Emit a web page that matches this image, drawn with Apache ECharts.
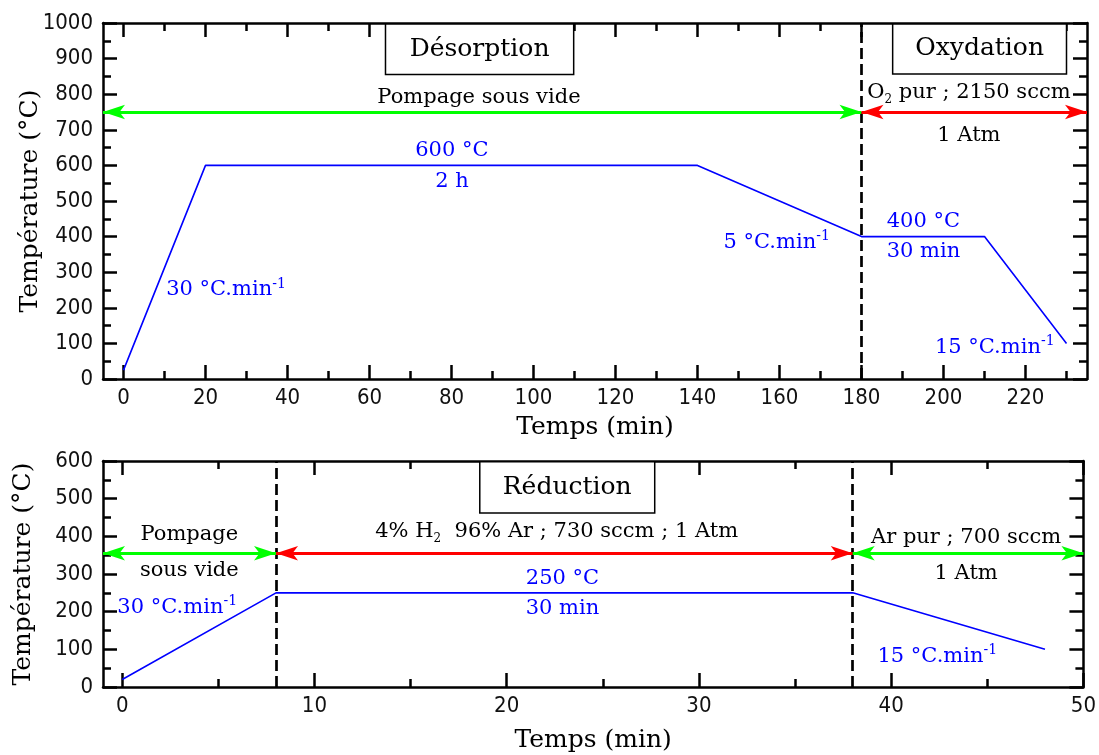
<!DOCTYPE html>
<html><head><meta charset="utf-8">
<script src="https://cdn.jsdelivr.net/npm/echarts@6/dist/echarts.min.js"></script>
<style>html,body{margin:0;padding:0;background:#fff}#c{width:1099px;height:755px}</style>
</head><body><div id="c"></div>
<script>
// ---------- data ----------
const topTime = [0, 20, 140, 180, 210, 230];
const topTemp = [25, 600, 600, 400, 400, 100];
const botTime = [0, 8, 38, 48];
const botTemp = [20, 250, 250, 100];

const topXMajor = [0, 20, 40, 60, 80, 100, 120, 140, 160, 180, 200, 220];
const topXMinor = [10, 30, 50, 70, 90, 110, 130, 150, 170, 190, 210, 230];
const botXMajor = [0, 10, 20, 30, 40, 50];
const botXMinor = [5, 15, 25, 35, 45];

const topDividers = [180];
const botDividers = [8, 38];

// arrows: [x1, x2, y, colour]
const topArrows = [[-5, 180, 750, '#00ff00'], [180, 235, 750, '#ff0000']];
const botArrows = [[-1, 8, 355, '#00ff00'], [8, 38, 355, '#ff0000'], [38, 50, 355, '#00ff00']];

// boxed titles: [x1, y1, x2, y2, text]
const topBoxes = [[63.9, 997, 109.8, 855, 'Désorption'], [187.6, 997, 230, 857, 'Oxydation']];
const botBoxes = [[18.6, 598, 27.7, 462, 'Réduction']];

// annotations: [x, y, formatter text]
const topBlue = [
  [25, 250, '{a|30 °C.min}{s|-1}'],
  [80.1, 641, '{a|600 °C}'],
  [80.1, 554, '{a|2 h}'],
  [159.3, 383, '{a|5 °C.min}{s|-1}'],
  [195.1, 442, '{a|400 °C}'],
  [195.1, 358, '{a|30 min}'],
  [212.5, 88, '{a|15 °C.min}{s|-1}']
];
const topBlack = [
  [86.7, 792, '{b|Pompage sous vide}'],
  [206.2, 805, '{b|O}{sub|2}{b| pur ; 2150 sccm}'],
  [206.2, 685, '{b|1 Atm}']
];
const botBlue = [
  [2.86, 212, '{a|30 °C.min}{s|-1}'],
  [22.9, 289, '{a|250 °C}'],
  [22.9, 209, '{a|30 min}'],
  [42.4, 82, '{a|15 °C.min}{s|-1}']
];
const botBlack = [
  [3.49, 404, '{b|Pompage}'],
  [3.49, 309, '{b|sous vide}'],
  [22.6, 412, '{b|4% H}{sub|2}{b|  96% Ar ; 730 sccm ; 1 Atm}'],
  [43.9, 397, '{b|Ar pur ; 700 sccm}'],
  [43.9, 302, '{b|1 Atm}']
];

// ---------- styles ----------
const SERIF = 'DejaVu Serif';
const SANS = "'DejaVu Sans Condensed', 'DejaVu Sans', sans-serif";
const rich = {
  a: {fontFamily: SERIF, fontSize: 21, color: '#0000ff', lineHeight: 26},
  s: {fontFamily: SERIF, fontSize: 14, color: '#0000ff', verticalAlign: 'top', lineHeight: 24},
  b: {fontFamily: SERIF, fontSize: 21, color: '#000', lineHeight: 26},
  sub: {fontFamily: SERIF, fontSize: 12, color: '#000', verticalAlign: 'bottom', lineHeight: 22}
};
const AX = {color: '#000', width: 2.5};
const TICKFONT = {fontFamily: SANS, fontSize: 22, color: '#111'};

function xAxes(grid, min, max, major, minor) {
  const base = {type: 'value', gridIndex: grid, min: min, max: max, splitLine: {show: false}};
  return [
    Object.assign({}, base, {position: 'bottom', axisLine: {show: true, onZero: false, lineStyle: AX},
      axisTick: {show: true, inside: true, length: 14, lineStyle: AX, customValues: major},
      axisLabel: Object.assign({show: true, customValues: major, margin: 8}, TICKFONT),
      name: 'Temps (min)', nameLocation: 'middle', nameGap: grid === 0 ? 36 : 41,
      nameTextStyle: {fontFamily: SERIF, fontSize: 25, color: '#000'}}),
    Object.assign({}, base, {position: 'bottom', axisLine: {show: false, onZero: false},
      axisTick: {show: true, inside: true, length: 8, lineStyle: AX, customValues: minor},
      axisLabel: {show: false}}),
    Object.assign({}, base, {position: 'top', axisLine: {show: true, onZero: false, lineStyle: AX},
      axisTick: {show: true, inside: true, length: 14, lineStyle: AX, customValues: major},
      axisLabel: {show: false}}),
    Object.assign({}, base, {position: 'top', axisLine: {show: false, onZero: false},
      axisTick: {show: true, inside: true, length: 8, lineStyle: AX, customValues: minor},
      axisLabel: {show: false}})
  ];
}
function yAxes(grid, max) {
  const base = {type: 'value', gridIndex: grid, min: 0, max: max, interval: 100, splitLine: {show: false},
    axisLine: {show: true, onZero: false, lineStyle: AX},
    axisTick: {show: true, inside: true, length: 14, lineStyle: AX},
    minorTick: {show: true, splitNumber: 2, length: 8, lineStyle: AX}};
  return [
    Object.assign({}, base, {position: 'left',
      axisLabel: Object.assign({show: true, margin: 10, formatter: v => String(v)}, TICKFONT),
      name: 'Température (°C)', nameLocation: 'middle', nameMoveOverlap: false,
      nameGap: grid === 0 ? 60 : 67,
      nameTextStyle: {fontFamily: SERIF, fontSize: 25, color: '#000'}}),
    Object.assign({}, base, {position: 'right', axisLabel: {show: false}})
  ];
}

function arrowLines(arr) {
  return arr.map(a => [
    {coord: [a[0], a[2]], lineStyle: {color: a[3], width: 3, type: 'solid'}},
    {coord: [a[1], a[2]]}
  ]);
}
function dividerLines(arr) {
  return arr.map(x => ({xAxis: x, lineStyle: {color: '#000', width: 2.7, type: [11, 5]}}));
}
function boxAreas(arr) {
  return arr.map(b => [
    {coord: [b[0], b[1]], name: b[4]},
    {coord: [b[2], b[3]]}
  ]);
}
function textSeries(xi, yi, arr) {
  return {
    type: 'scatter', xAxisIndex: xi, yAxisIndex: yi, symbolSize: 0, silent: true, z: 10,
    itemStyle: {opacity: 1},
    data: arr.map(t => ({value: [t[0], t[1]], label: {formatter: t[2]}})),
    label: {show: true, position: 'inside', opacity: 1, rich: rich}
  };
}
function profile(xi, yi, xs, ys, dividers, arrows, boxes) {
  return [{
    type: 'line', xAxisIndex: xi, yAxisIndex: yi, symbol: 'none', silent: true,
    lineStyle: {color: '#0000ff', width: 1.6},
    data: xs.map((x, i) => [x, ys[i]]),
    markLine: {silent: true, symbol: ['none', 'none'], label: {show: false},
      data: dividerLines(dividers)},
    markArea: {silent: true,
      itemStyle: {color: '#fff', borderColor: '#000', borderWidth: 1.5},
      label: {show: true, position: 'inside', fontFamily: SERIF, fontSize: 25, color: '#000'},
      data: boxAreas(boxes)}
  }, {
    type: 'line', xAxisIndex: xi, yAxisIndex: yi, symbol: 'none', silent: true, data: [],
    markLine: {silent: true, symbol: ['arrow', 'arrow'], symbolSize: [11, 22], label: {show: false},
      data: arrowLines(arrows)}
  }];
}

const option = {
  animation: false,
  backgroundColor: '#fff',
  grid: [
    {left: 103, top: 23, width: 984, height: 356},
    {left: 103, top: 461, width: 984, height: 226}
  ],
  xAxis: xAxes(0, -5, 235, topXMajor, topXMinor).concat(xAxes(1, -1, 50, botXMajor, botXMinor)),
  yAxis: yAxes(0, 1000).concat(yAxes(1, 600)),
  series: [].concat(
    profile(0, 0, topTime, topTemp, topDividers, topArrows, topBoxes),
    profile(4, 2, botTime, botTemp, botDividers, botArrows, botBoxes),
    [textSeries(0, 0, topBlue), textSeries(0, 0, topBlack),
     textSeries(4, 2, botBlue), textSeries(4, 2, botBlack)]
  )
};
const chart = echarts.init(document.getElementById('c'), null, {renderer: 'canvas'});
chart.setOption(option);
</script></body></html>
